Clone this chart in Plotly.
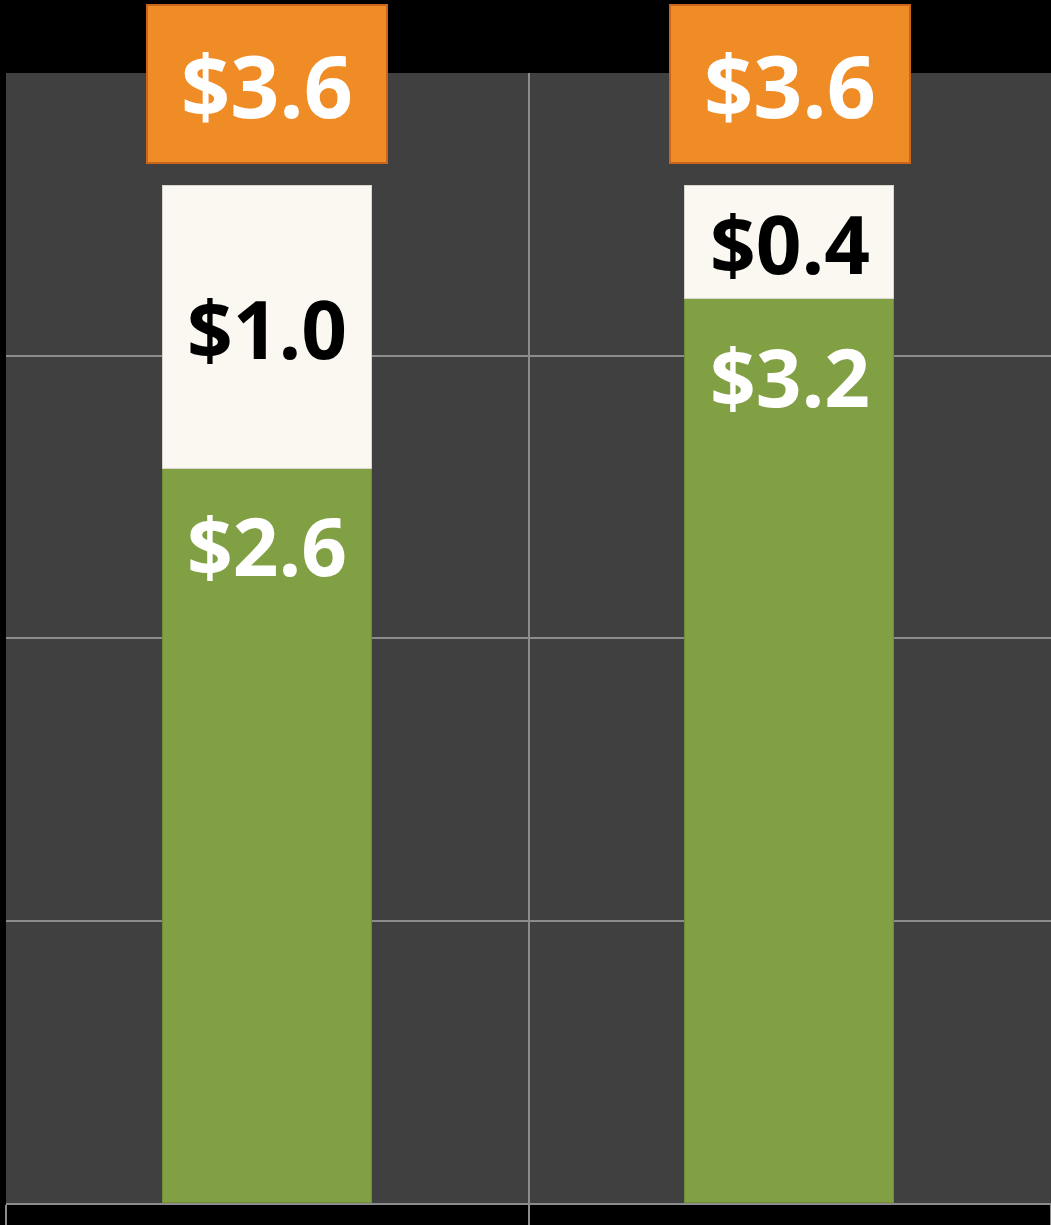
import plotly.graph_objects as go

categories = ["A", "B"]
base_values = [2.6, 3.2]
top_values = [1.0, 0.4]
totals = [3.6, 3.6]

x_pos = list(range(len(categories)))

fig = go.Figure()
fig.add_trace(go.Bar(
    x=x_pos, y=base_values, width=0.4,
    marker=dict(color="#81A044", line=dict(color="#6E8D35", width=1.5)),
    hoverinfo="skip", showlegend=False,
))
fig.add_trace(go.Bar(
    x=x_pos, y=top_values, width=0.4,
    marker=dict(color="#FAF8F0", line=dict(color="#D9D6CB", width=1.5)),
    hoverinfo="skip", showlegend=False,
))

FONT = "Open Sans"
annotations = []
for i, (b, t, tot) in enumerate(zip(base_values, top_values, totals)):
    annotations.append(dict(
        x=i, y=b - 0.27, xref="x", yref="y", showarrow=False,
        text=f"<b>${b:.1f}</b>",
        font=dict(family=FONT, size=80, color="white"),
    ))
    annotations.append(dict(
        x=i, y=b + t / 2, xref="x", yref="y", showarrow=False,
        text=f"<b>${t:.1f}</b>",
        font=dict(family=FONT, size=80, color="black"),
    ))
    annotations.append(dict(
        x=i, y=tot + 0.36, xref="x", yref="y", showarrow=False,
        text=f"<b>${tot:.1f}</b>",
        font=dict(family=FONT, size=86, color="white"),
        bgcolor="#F08C26", bordercolor="#C9661B", borderwidth=2,
        width=238, height=156, borderpad=0, valign="middle",
    ))

fig.update_layout(
    width=1051, height=1225,
    margin=dict(l=6, r=0, t=73, b=22),
    paper_bgcolor="black", plot_bgcolor="#404040",
    barmode="stack", bargap=0,
    annotations=annotations,
    xaxis=dict(
        range=[-0.5, 1.5], tickvals=[-0.5, 0.5, 1.5], ticktext=["", "", ""],
        showgrid=True, gridcolor="#8C8C8C", gridwidth=2,
        ticks="outside", ticklen=22, tickcolor="#8C8C8C", tickwidth=2,
        showline=True, linecolor="#8C8C8C", linewidth=2, zeroline=False,
    ),
    yaxis=dict(
        range=[0, 4], tickvals=[0, 1, 2, 3, 4], showticklabels=False,
        showgrid=True, gridcolor="#8C8C8C", gridwidth=2, zeroline=False,
        showline=False,
    ),
)

fig.write_html(
    "out.html",
    config={"displayModeBar": False},
    post_script="document.body.style.margin='0';document.body.style.overflow='hidden';document.body.style.background='black';",
)
